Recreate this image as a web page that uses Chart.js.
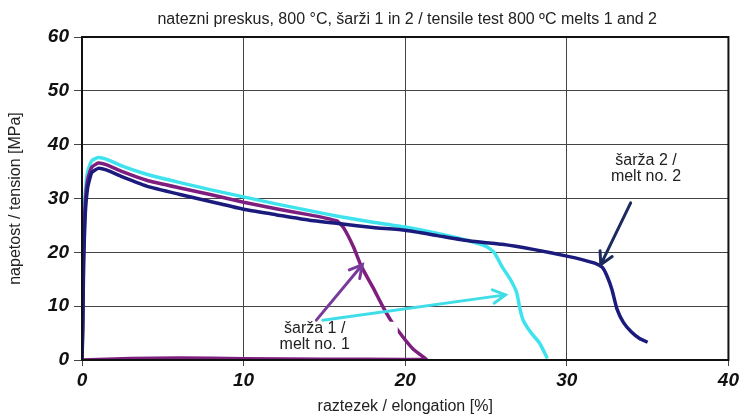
<!DOCTYPE html>
<html>
<head>
<meta charset="utf-8">
<script src="https://cdn.jsdelivr.net/npm/chart.js@4.4.0/dist/chart.umd.min.js"></script>
<style>
  html, body { margin: 0; padding: 0; background: #fff; }
  #wrap { width: 742px; height: 416px; }
</style>
</head>
<body>
<div id="wrap"><canvas id="graf" width="742" height="416"></canvas></div>
<script>
// šarža 2 / melt no. 2 (temno modra)
const sarza2X = [0, 0.05, 0.1, 0.2, 0.35, 0.6, 1, 1.5, 2.5, 4, 6, 8, 10, 12, 14, 16, 18, 20, 22, 24, 26, 28, 30, 31, 31.8, 32.2, 32.5, 32.8, 33.1, 33.5, 34, 34.5, 35];
const sarza2Y = [0, 6, 18, 27, 32, 34.8, 35.6, 35.3, 34, 32.3, 30.8, 29.4, 28, 27, 26, 25.3, 24.6, 24.1, 23.1, 22.1, 21.5, 20.5, 19.3, 18.6, 17.9, 17.2, 15.5, 13, 9.5, 7, 5.2, 4, 3.3];

// šarža 1, vzorec a (vijolična) – z vrnitvijo po ničli
const sarza1aX = [0, 0.05, 0.1, 0.2, 0.35, 0.6, 1, 1.5, 2.5, 4, 6, 8, 10, 12, 14, 15, 15.8, 16.2, 16.8, 17.3, 18, 18.6, 19.1, 19.8, 20.5, 21.2, 21.3, 20, 15, 10, 6, 3, 1, 0];
const sarza1aY = [0, 8, 20, 29, 33.5, 35.8, 36.6, 36.3, 35, 33.4, 32, 30.7, 29.3, 28.1, 27, 26.4, 25.8, 24.5, 21, 17.3, 13.5, 10, 7.4, 4.5, 2, 0.4, 0.1, 0.1, 0.15, 0.25, 0.35, 0.3, 0.1, 0];

// šarža 1, vzorec b (svetlo modra)
const sarza1bX = [0, 0, 0.05, 0.1, 0.2, 0.35, 0.6, 1, 1.5, 2.5, 4, 6, 8, 10, 12, 14, 16, 18, 20, 22, 24, 25, 25.5, 26, 26.5, 26.9, 27.1, 27.3, 27.8, 28.3, 28.8];
const sarza1bY = [0, 7, 15, 24, 31, 35, 37, 37.6, 37.3, 36, 34.5, 33, 31.6, 30.3, 29, 27.8, 26.6, 25.6, 24.7, 23.5, 22.1, 21.1, 20, 17.3, 15, 12.5, 9.5, 7.4, 5, 3.2, 0.3];

const xTicks = [0, 10, 20, 30, 40];
const yTicks = [0, 10, 20, 30, 40, 50, 60];

// puščice in napisi (v enotah grafa)
const puscice = [
  { od: [14.5, 7.4], do: [17.35, 17.7], barva: '#7a3a9c' },
  { od: [14.9, 7.4], do: [26.2, 12.1], barva: '#3fdde8' },
  { od: [33.95, 29.2], do: [32.1, 17.7], barva: '#1c2a5e' }
];
const napisi = [
  { x: 14.4, y: 5.8, vrstice: ['šarža 1 /', 'melt no. 1'], okvir: true },
  { x: 34.9, y: 37.0, vrstice: ['šarža 2 /', 'melt no. 2'], okvir: false }
];

function tocke(xs, ys) {
  return xs.map((x, i) => ({ x: x, y: ys[i] }));
}

const okvirPlugin = {
  id: 'okvir',
  afterDatasetsDraw(chart) {
    const { ctx, chartArea: a, scales } = chart;
    const sx = scales.x, sy = scales.y;

    // napisi
    ctx.save();
    ctx.font = '16px "Liberation Sans", Arial, sans-serif';
    ctx.textAlign = 'center';
    ctx.textBaseline = 'middle';
    napisi.forEach(n => {
      const px = sx.getPixelForValue(n.x);
      const py = sy.getPixelForValue(n.y);
      if (n.okvir) {
        ctx.fillStyle = '#fff';
        ctx.fillRect(px - 36, py - 7, 119, 33);
      }
      ctx.fillStyle = '#222';
      n.vrstice.forEach((t, i) => ctx.fillText(t, px, py + i * 16));
    });
    ctx.restore();

    // puščice
    puscice.forEach(p => {
      const x1 = sx.getPixelForValue(p.od[0]), y1 = sy.getPixelForValue(p.od[1]);
      const x2 = sx.getPixelForValue(p.do[0]), y2 = sy.getPixelForValue(p.do[1]);
      const kot = Math.atan2(y2 - y1, x2 - x1);
      ctx.save();
      ctx.strokeStyle = p.barva;
      ctx.lineWidth = 3;
      ctx.lineCap = 'round';
      ctx.beginPath();
      ctx.moveTo(x1, y1);
      ctx.lineTo(x2, y2);
      ctx.moveTo(x2 - 14 * Math.cos(kot - 0.5), y2 - 14 * Math.sin(kot - 0.5));
      ctx.lineTo(x2, y2);
      ctx.lineTo(x2 - 14 * Math.cos(kot + 0.5), y2 - 14 * Math.sin(kot + 0.5));
      ctx.stroke();
      ctx.restore();
    });

    // okvir
    ctx.save();
    ctx.strokeStyle = '#111';
    ctx.lineWidth = 2;
    ctx.strokeRect(a.left, a.top, a.right - a.left, a.bottom - a.top);
    ctx.restore();
  },
  afterDraw(chart) {
    const { ctx, chartArea: a } = chart;
    ctx.save();
    ctx.font = '16px "Liberation Sans", Arial, sans-serif';
    ctx.fillStyle = '#222';
    ctx.textAlign = 'center';
    ctx.textBaseline = 'middle';
    ctx.fillText('natezni preskus, 800 °C, šarži 1 in 2 / tensile test 800 ºC melts 1 and 2', (a.left + a.right) / 2 + 2, 20);
    ctx.restore();
  }
};

const pisavaOsi = { family: '"Liberation Sans", Arial, sans-serif', size: 19, weight: 'bold', style: 'italic' };

new Chart(document.getElementById('graf').getContext('2d'), {
  type: 'scatter',
  data: {
    datasets: [
      { label: 'šarža 2', data: tocke(sarza2X, sarza2Y), borderColor: '#1b1b7e', borderWidth: 3.5 },
      { label: 'šarža 1 a', data: tocke(sarza1aX, sarza1aY), borderColor: '#7e1f80', borderWidth: 3.5 },
      { label: 'šarža 1 b', data: tocke(sarza1bX, sarza1bY), borderColor: '#3fe3ee', borderWidth: 3.5 }
    ].map(d => Object.assign(d, { showLine: true, pointRadius: 0, tension: 0.15, fill: false }))
  },
  options: {
    responsive: false,
    animation: false,
    layout: { padding: { top: 37, right: 11, left: 6, bottom: 0 } },
    plugins: { legend: { display: false }, tooltip: { enabled: false } },
    scales: {
      x: {
        type: 'linear', min: 0, max: 40,
        afterBuildTicks: s => { s.ticks = xTicks.map(v => ({ value: v })); },
        afterFit: s => { s.height = 56; },
        ticks: { color: '#111', font: pisavaOsi, padding: 3 },
        grid: { color: '#444', lineWidth: 1, tickLength: 6 },
        border: { color: '#111', width: 2 },
        title: { display: true, text: 'raztezek / elongation [%]', color: '#222', font: { family: '"Liberation Sans", Arial, sans-serif', size: 16 }, padding: { top: 0, bottom: 0 } }
      },
      y: {
        type: 'linear', min: 0, max: 60,
        afterBuildTicks: s => { s.ticks = yTicks.map(v => ({ value: v })); },
        afterFit: s => { s.width = 76; },
        ticks: { color: '#111', font: pisavaOsi, padding: 5 },
        grid: { color: '#444', lineWidth: 1, tickLength: 8 },
        border: { color: '#111', width: 2 },
        title: { display: true, text: 'napetost / tension [MPa]', color: '#222', font: { family: '"Liberation Sans", Arial, sans-serif', size: 16 }, padding: { top: 0, bottom: 0 } }
      }
    }
  },
  plugins: [okvirPlugin]
});
</script>
</body>
</html>
